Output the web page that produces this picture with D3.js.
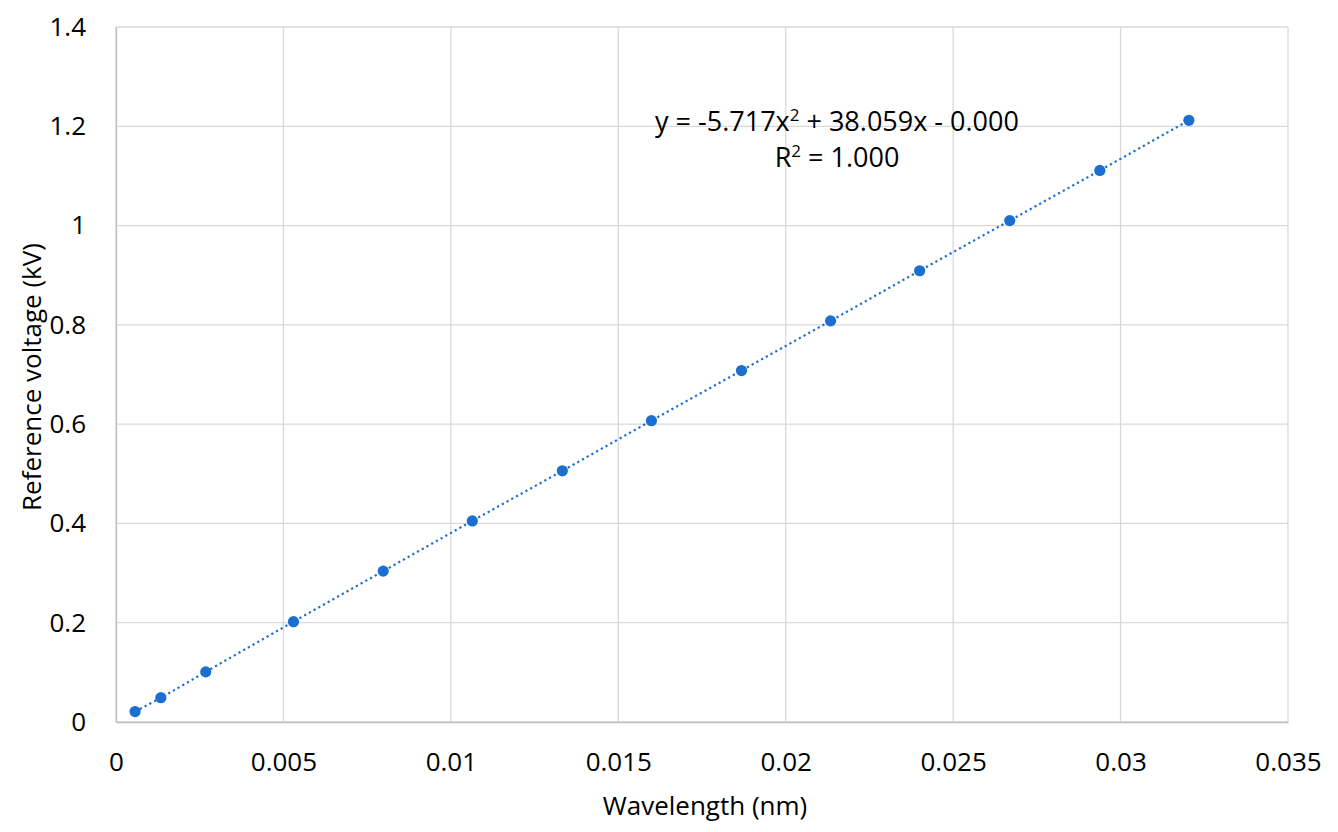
<!DOCTYPE html>
<html>
<head>
<meta charset="utf-8">
<script src="https://cdn.jsdelivr.net/npm/d3@7"></script>
<style>
  html, body { margin: 0; padding: 0; background: #fff; }
  svg { display: block; }
  text { font-family: "Open Sans", sans-serif; fill: #000; }
</style>
</head>
<body>
<svg id="chart" width="1338" height="832"></svg>
<script>
// Data
const wavelength = [0.00057, 0.00134, 0.00268, 0.00530, 0.00798, 0.01064, 0.01333, 0.01599, 0.01868, 0.02134, 0.02400, 0.02669, 0.02938, 0.03204];
const voltage    = [0.021, 0.049, 0.101, 0.202, 0.304, 0.405, 0.506, 0.607, 0.708, 0.808, 0.909, 1.010, 1.111, 1.212];
const xTicks = [0, 0.005, 0.01, 0.015, 0.02, 0.025, 0.03, 0.035];
const yTicks = [0, 0.2, 0.4, 0.6, 0.8, 1, 1.2, 1.4];
const xTitle = "Wavelength (nm)";
const yTitle = "Reference voltage (kV)";
const equationLine1 = "y = -5.717x";
const equationLine1b = " + 38.059x - 0.000";
const equationLine2 = "R";
const equationLine2b = " = 1.000";

const svg = d3.select("#chart");
const margin = { left: 116, right: 1338 - 1288, top: 27, bottom: 832 - 722 };
const W = 1338, H = 832;

const x = d3.scaleLinear().domain([0, 0.035]).range([margin.left, W - margin.right]);
const y = d3.scaleLinear().domain([0, 1.4]).range([H - margin.bottom, margin.top]);

const data = wavelength.map((w, i) => ({ x: w, y: voltage[i] }));

// Gridlines
const grid = svg.append("g");
grid.selectAll("line.v").data(xTicks).join("line")
  .attr("x1", d => x(d)).attr("x2", d => x(d))
  .attr("y1", y(0)).attr("y2", y(1.4))
  .attr("stroke", "#d9d9d9").attr("stroke-width", 1.3);
grid.selectAll("line.h").data(yTicks).join("line")
  .attr("x1", x(0)).attr("x2", x(0.035))
  .attr("y1", d => y(d)).attr("y2", d => y(d))
  .attr("stroke", "#d9d9d9").attr("stroke-width", 1.3);

// Axes (labels only, Excel style)
const xAxis = svg.append("g")
  .attr("transform", `translate(0,${y(0)})`)
  .call(d3.axisBottom(x).tickValues(xTicks).tickSize(0).tickPadding(31).tickFormat(d => String(+d.toFixed(3))));
xAxis.select(".domain").attr("stroke", "#bfbfbf").attr("stroke-width", 1.3);
xAxis.selectAll("text").style("font-size", "26px").style("font-family", "'Open Sans', sans-serif").attr("fill", "#000");

const yAxis = svg.append("g")
  .attr("transform", `translate(${x(0)},0)`)
  .call(d3.axisLeft(y).tickValues(yTicks).tickSize(0).tickPadding(30).tickFormat(d => String(+d.toFixed(1))));
yAxis.select(".domain").attr("stroke", "#bfbfbf").attr("stroke-width", 1.3);
yAxis.selectAll("text").style("font-size", "26px").style("font-family", "'Open Sans', sans-serif").attr("fill", "#000");

// Trendline (dotted)
const line = d3.line().x(d => x(d.x)).y(d => y(d.y)).curve(d3.curveMonotoneX);
svg.append("path").datum(data)
  .attr("d", line)
  .attr("fill", "none")
  .attr("stroke", "#1a6fd0")
  .attr("stroke-width", 2.2)
  .attr("stroke-dasharray", "2.2,3.2");

// Markers
svg.append("g").selectAll("circle").data(data).join("circle")
  .attr("cx", d => x(d.x)).attr("cy", d => y(d.y))
  .attr("r", 5.6)
  .attr("fill", "#1a6fd0");

// Axis titles
svg.append("text")
  .attr("x", 705).attr("y", 815)
  .attr("text-anchor", "middle")
  .style("font-size", "26px")
  .text(xTitle);

svg.append("text")
  .attr("transform", `translate(41,377) rotate(-90)`)
  .attr("text-anchor", "middle")
  .style("font-size", "26px")
  .text(yTitle);

// Equation and R²
const eq = svg.append("text")
  .attr("x", 837).attr("y", 131)
  .attr("text-anchor", "middle")
  .style("font-size", "27px");
eq.append("tspan").text(equationLine1);
eq.append("tspan").attr("dy", -10).style("font-size", "17px").text("2");
eq.append("tspan").attr("dy", 10).text(equationLine1b);

const r2 = svg.append("text")
  .attr("x", 837).attr("y", 167)
  .attr("text-anchor", "middle")
  .style("font-size", "27px");
r2.append("tspan").text(equationLine2);
r2.append("tspan").attr("dy", -10).style("font-size", "17px").text("2");
r2.append("tspan").attr("dy", 10).text(equationLine2b);
</script>
</body>
</html>
